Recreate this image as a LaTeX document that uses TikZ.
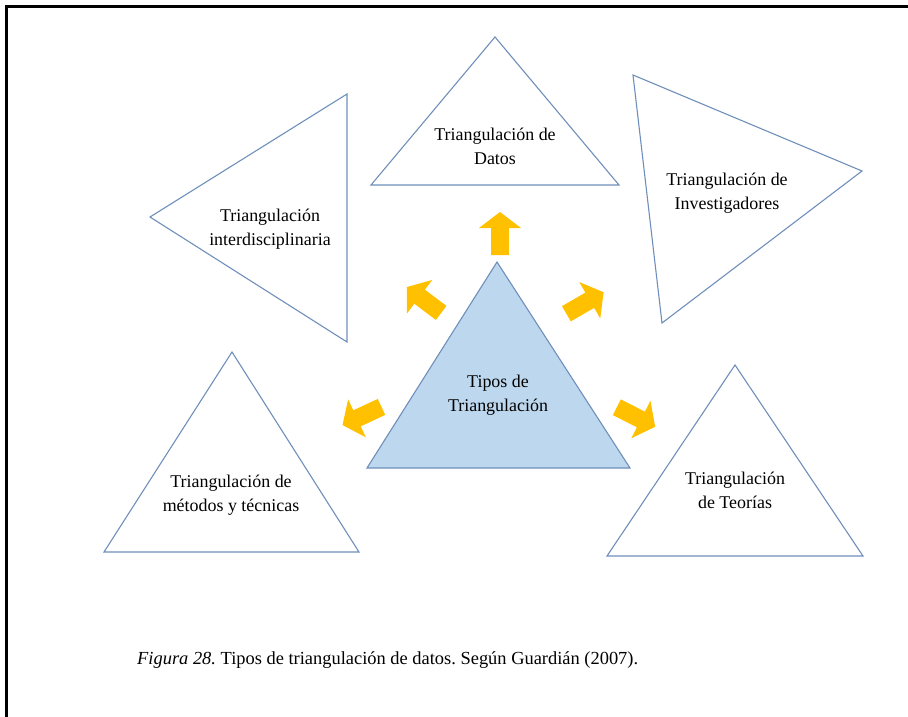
\documentclass[tikz,border=0pt]{standalone}
\usepackage{fontspec}
\setmainfont{Liberation Serif}
\begin{document}
\frenchspacing
\begin{tikzpicture}[x=1bp,y=1bp,
  tri/.style={draw=triline, line width=1.1bp, line join=miter},
  lbl/.style={align=center, inner sep=0pt, font=\fontsize{18}{24}\selectfont},
  barrow/.pic={\fill[arrowfill] (-21.5,-8.8) -- (5.5,-8.8) -- (5.5,-21) -- (21.5,0) -- (5.5,21) -- (5.5,8.8) -- (-21.5,8.8) -- cycle;}
]
\definecolor{triline}{HTML}{6F8FBA}
\definecolor{trifill}{HTML}{BDD7EE}
\definecolor{arrowfill}{HTML}{FFC000}
\useasboundingbox (0,0) rectangle (908,-717);
% frame
\draw[line width=2.5bp] (5.3,-6.5) -- (908,-6.5);
\draw[line width=2.5bp] (6.5,-5.3) -- (6.5,-717);
% central triangle
\draw[tri, fill=trifill] (497,-262) -- (630,-468) -- (367,-468) -- cycle;
\node[lbl] (center) at (498,-395) {Tipos de\\Triangulación};
% top
\draw[tri] (495,-37) -- (619,-185) -- (371,-185) -- cycle;
\node[lbl] (datos) at (495,-146) {Triangulación de\\Datos};
% left
\draw[tri] (150,-217) -- (347,-94) -- (347,-342) -- cycle;
\node[lbl] (inter) at (270,-229) {Triangulación\\interdisciplinaria};
% right
\draw[tri] (633,-75) -- (862,-171) -- (662,-323) -- cycle;
\node[lbl] (inv) at (727,-193) {Triangulación de\\Investigadores};
% bottom-left
\draw[tri] (232,-352) -- (359,-552) -- (104,-552) -- cycle;
\node[lbl] (met) at (231,-495) {Triangulación de\\métodos y técnicas};
% bottom-right
\draw[tri] (735,-365) -- (863,-556) -- (607,-556) -- cycle;
\node[lbl] (teo) at (735,-490) {Triangulación\\de Teorías};
% arrows
\pic[rotate=90] at (500,-233.5) {barrow};
\pic[rotate=143] at (424,-300) {barrow};
\pic[rotate=30] at (585,-303) {barrow};
\pic[rotate=205] at (362,-416) {barrow};
\pic[rotate=-27] at (636,-417) {barrow};
% caption
\node[anchor=base west, inner sep=0pt, font=\fontsize{18.5}{20}\selectfont] (cap) at (137,-664)
  {\textit{Figura 28.} Tipos de triangulación de datos. Según Guardián (2007).};
\end{tikzpicture}
\end{document}
